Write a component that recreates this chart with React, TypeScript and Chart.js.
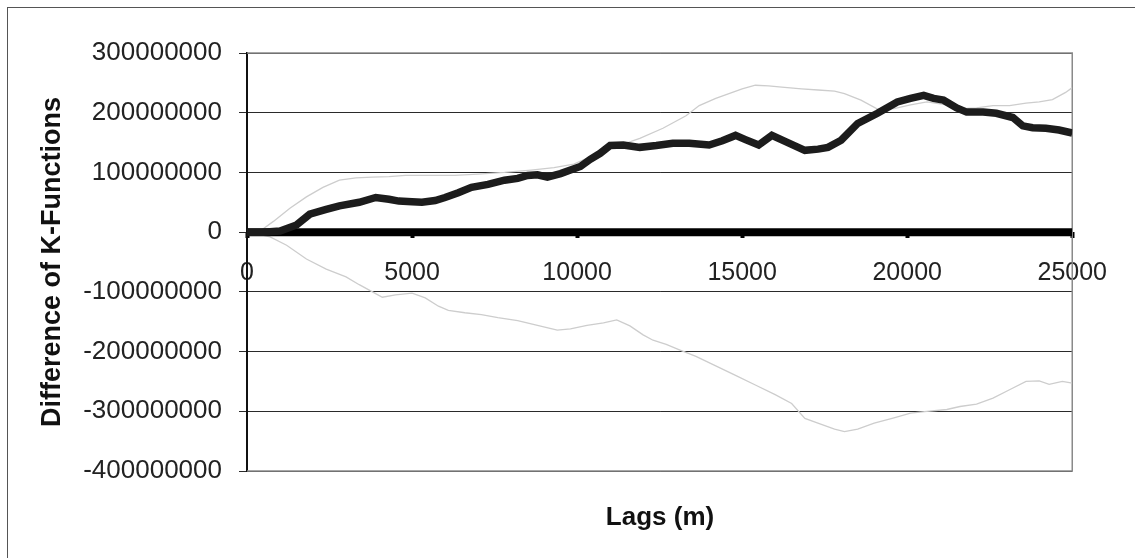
import React, { useEffect, useRef } from "react";
import { Chart, registerables } from "chart.js";

Chart.register(...registerables);

// X axis range / ticks
const xTicks = [0, 5000, 10000, 15000, 20000, 25000];
const yTicks = [-400000000, -300000000, -200000000, -100000000, 0, 100000000, 200000000, 300000000];

// Observed difference of K-functions (millions)
const obsLags = [0, 500, 1000, 1500, 1900, 2400, 2800, 3400, 3900, 4300, 4600, 5000, 5300, 5700, 6000, 6400, 6800, 7300, 7800, 8200, 8500, 8800, 9100, 9500, 9800, 10100, 10400, 10700, 11000, 11400, 11900, 12400, 12900, 13400, 14000, 14400, 14800, 15100, 15500, 15900, 16300, 16900, 17300, 17600, 18000, 18500, 19100, 19700, 20100, 20500, 20800, 21100, 21500, 21800, 22300, 22700, 23200, 23500, 23800, 24200, 24600, 25000];
const obsValues = [0, 0, 2, 12, 30, 38, 44, 50, 58, 55, 52, 51, 50, 53, 58, 66, 75, 80, 87, 90, 95, 96, 92, 98, 104, 110, 122, 132, 145, 146, 142, 145, 149, 149, 146, 153, 162, 155, 146, 162, 152, 137, 139, 142, 154, 182, 199, 218, 224, 229, 224, 221, 208, 201, 201, 199, 192, 178, 175, 174, 171, 166];

// Upper simulation envelope (millions)
const upperLags = [0, 400, 800, 1300, 1800, 2300, 2800, 3300, 3800, 4300, 4800, 5500, 6300, 7000, 7800, 8600, 9300, 9900, 10400, 11000, 11900, 12600, 13300, 13700, 14200, 14600, 15000, 15400, 15800, 16200, 16800, 17300, 17800, 18100, 18600, 19100, 19600, 20100, 20600, 21100, 21600, 22100, 22600, 23100, 23600, 24000, 24400, 24800, 25000];
const upperValues = [0, 2, 18, 40, 59, 75, 87, 91, 92, 93, 95, 95, 95, 97, 100, 104, 108, 114, 126, 140, 157, 174, 195, 212, 224, 232, 240, 246, 245, 243, 240, 238, 236, 232, 221, 206, 207, 213, 218, 214, 207, 208, 212, 212, 216, 218, 222, 234, 242];

// Lower simulation envelope (millions)
const lowerLags = [0, 300, 700, 1200, 1800, 2400, 3000, 3400, 3800, 4100, 4500, 5000, 5400, 5800, 6100, 6600, 7100, 7600, 8200, 8800, 9400, 9800, 10300, 10800, 11200, 11600, 12000, 12300, 12700, 13100, 13600, 14200, 14800, 15400, 16000, 16500, 16900, 17400, 17800, 18100, 18500, 19000, 19600, 20100, 20600, 21200, 21600, 22100, 22600, 23100, 23600, 24000, 24300, 24700, 25000];
const lowerValues = [0, -3, -8, -22, -45, -62, -75, -88, -100, -109, -105, -102, -110, -124, -131, -135, -138, -143, -148, -156, -164, -162, -156, -152, -147, -157, -172, -181, -188, -197, -208, -224, -240, -256, -272, -287, -312, -322, -330, -334, -330, -320, -311, -303, -300, -297, -292, -288, -278, -264, -250, -249, -255, -250, -253];

// Zero reference line
const zeroLags = [0, 25000];
const zeroValues = [0, 0];

const FONT = "'Liberation Sans', Arial, Helvetica, sans-serif";
const M = 1000000;

const toPoints = (xs: number[], ys: number[], scale: number) =>
  xs.map((x, i) => ({ x, y: ys[i] * scale }));

const decorPlugin = {
  id: "decor",
  beforeDatasetsDraw(chart: any) {
    const { ctx, chartArea } = chart;
    ctx.save();
    ctx.strokeStyle = "#8a8a8a";
    ctx.lineWidth = 1.5;
    ctx.beginPath();
    ctx.moveTo(chartArea.left, chartArea.top);
    ctx.lineTo(chartArea.right, chartArea.top);
    ctx.lineTo(chartArea.right, chartArea.bottom);
    ctx.lineTo(chartArea.left, chartArea.bottom);
    ctx.stroke();
    ctx.restore();
  },
  afterDraw(chart: any) {
    const { ctx } = chart;
    ctx.save();
    ctx.fillStyle = "#111";
    ctx.font = `bold 26px ${FONT}`;
    ctx.textAlign = "center";
    ctx.textBaseline = "middle";
    ctx.fillText("Lags (m)", 652, 510);
    ctx.font = `bold 27px ${FONT}`;
    ctx.translate(45, 254);
    ctx.rotate(-Math.PI / 2);
    ctx.fillText("Difference of K-Functions", 0, 0);
    ctx.restore();
  },
};

export default function App() {
  const ref = useRef<HTMLCanvasElement | null>(null);
  useEffect(() => {
    document.documentElement.style.overflow = "hidden";
    document.body.style.overflow = "hidden";
    if (!ref.current) return;
    const chart = new Chart(ref.current, {
      type: "line",
      data: {
        datasets: [
          {
            label: "Observed",
            data: toPoints(obsLags, obsValues, M),
            borderColor: "#1c1c1c",
            borderWidth: 7.5,
            pointRadius: 0,
            tension: 0,
          },
          {
            label: "Zero",
            data: toPoints(zeroLags, zeroValues, M),
            borderColor: "#000",
            borderWidth: 8,
            pointRadius: 0,
            tension: 0,
          },
          {
            label: "Upper",
            data: toPoints(upperLags, upperValues, M),
            borderColor: "#cdcdcd",
            borderWidth: 1.3,
            pointRadius: 0,
            tension: 0,
          },
          {
            label: "Lower",
            data: toPoints(lowerLags, lowerValues, M),
            borderColor: "#cdcdcd",
            borderWidth: 1.3,
            pointRadius: 0,
            tension: 0,
          },
        ],
      },
      options: {
        animation: false,
        responsive: false,
        maintainAspectRatio: false,
        layout: { padding: { top: 45, right: 51, bottom: 79, left: 0 } },
        plugins: { legend: { display: false }, tooltip: { enabled: false } },
        scales: {
          x: {
            type: "linear",
            position: { y: 0 } as any,
            min: 0,
            max: 25000,
            afterBuildTicks: (scale: any) => {
              scale.ticks = xTicks.map((v) => ({ value: v }));
            },
            ticks: {
              font: { family: FONT, size: 25 },
              color: "#222",
              padding: 20,
              maxRotation: 0,
              autoSkip: false,
              callback: (v: any) => String(v),
            },
            grid: {
              drawOnChartArea: false,
              drawTicks: true,
              tickLength: 6,
              tickWidth: 4,
              tickColor: "#000",
            },
            border: { display: false },
          },
          y: {
            type: "linear",
            min: -400000000,
            max: 300000000,
            afterBuildTicks: (scale: any) => {
              scale.ticks = yTicks.map((v) => ({ value: v }));
            },
            afterFit: (scale: any) => {
              scale.width = 239;
            },
            ticks: {
              font: { family: FONT, size: 26 },
              color: "#222",
              padding: 17,
              callback: (v: any) => String(v),
            },
            grid: {
              color: "#2a2a2a",
              lineWidth: 1,
              tickLength: 8,
              tickColor: "#2a2a2a",
            },
            border: { display: true, color: "#111", width: 2 },
          },
        },
      },
      plugins: [decorPlugin],
    });
    return () => chart.destroy();
  }, []);
  return (
    <div style={{ position: "relative", width: 1119, height: 542 }}>
      <div
        style={{
          position: "fixed",
          left: 7,
          top: 7,
          width: 3000,
          height: 3000,
          borderTop: "1.5px solid #555",
          borderLeft: "1.5px solid #555",
          pointerEvents: "none",
        }}
      />
      <canvas ref={ref} width={1119} height={542} style={{ display: "block" }} />
    </div>
  );
}
